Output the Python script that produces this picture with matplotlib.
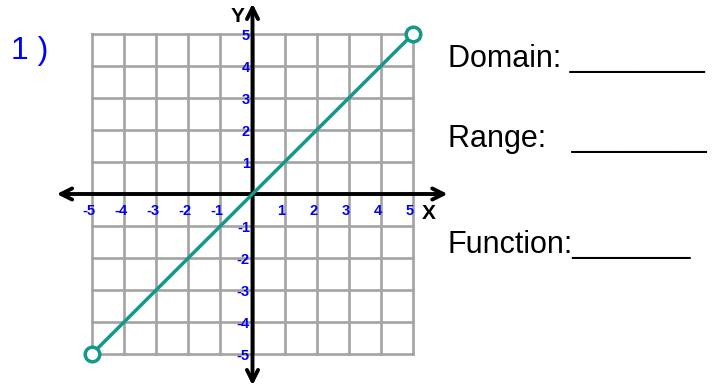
import matplotlib
matplotlib.use("Agg")
import matplotlib.pyplot as plt

# -----------------------------
# Data
# -----------------------------
grid_ticks = [-5, -4, -3, -2, -1, 0, 1, 2, 3, 4, 5]
label_ticks = [-5, -4, -3, -2, -1, 1, 2, 3, 4, 5]
line_x = [-5, 5]
line_y = [-5, 5]

# -----------------------------
# Style
# -----------------------------
GRID_COLOR = "#a3a3a3"
LINE_COLOR = "#13998a"
TICK_COLOR = "#0000ee"
plt.rcParams["font.family"] = ["Liberation Sans", "DejaVu Sans"]

W, H = 718, 386
fig = plt.figure(figsize=(W / 100, H / 100), dpi=100)
fig.patch.set_facecolor("white")

# axes box exactly covers the grid -5..5
ax = fig.add_axes([92 / W, (H - 354) / H, 321 / W, 320 / H])
ax.set_xlim(-5, 5)
ax.set_ylim(-5, 5)
ax.axis("off")

# grid
for t in grid_ticks:
    ax.plot([t, t], [-5, 5], color=GRID_COLOR, lw=1.9, zorder=1, clip_on=False,
            solid_capstyle="projecting")
    ax.plot([-5, 5], [t, t], color=GRID_COLOR, lw=1.9, zorder=1, clip_on=False,
            solid_capstyle="projecting")

# axes with arrows
arrow_props = dict(arrowstyle="<->,head_length=0.8,head_width=0.4",
                   lw=2.8, color="black", shrinkA=0, shrinkB=0)
ax.annotate("", xy=(-6.1, 0), xytext=(6.08, 0), arrowprops=arrow_props,
            annotation_clip=False, zorder=3)
ax.annotate("", xy=(0, 5.95), xytext=(0, -5.98), arrowprops=arrow_props,
            annotation_clip=False, zorder=3)

# tick labels
for t in label_ticks:
    ax.text(t - 0.1, -0.3, str(t), color=TICK_COLOR, fontsize=10.5,
            fontweight="bold", ha="center", va="top", zorder=4)
    ax.text(-0.08, t - 0.05, str(t), color=TICK_COLOR, fontsize=10.5,
            fontweight="bold", ha="right", va="center", zorder=4)

ax.text(5.5, -0.6, "X", fontsize=15, fontweight="bold", ha="center",
        va="center", zorder=4)
ax.text(-0.45, 5.55, "Y", fontsize=15, fontweight="bold", ha="center",
        va="center", zorder=4)

# the function line
ax.plot(line_x, line_y, color=LINE_COLOR, lw=2.5, zorder=5, clip_on=False)
ax.plot(line_x, line_y, "o", color=LINE_COLOR, markerfacecolor="white",
        markersize=10.5, markeredgewidth=2.5, zorder=6, clip_on=False)

# text around the chart
fig.text(11 / W, 1 - 59 / H, "1 )", color="#0000ff", fontsize=23,
         ha="left", va="baseline")
fig.text(448 / W, 1 - 67 / H, "Domain: ________", fontsize=22,
         ha="left", va="baseline")
fig.text(448 / W, 1 - 147 / H, "Range:   ________", fontsize=22,
         ha="left", va="baseline")
fig.text(448 / W, 1 - 253 / H, "Function:_______", fontsize=22,
         ha="left", va="baseline")

fig.savefig("out.png", dpi=100, facecolor="white")
